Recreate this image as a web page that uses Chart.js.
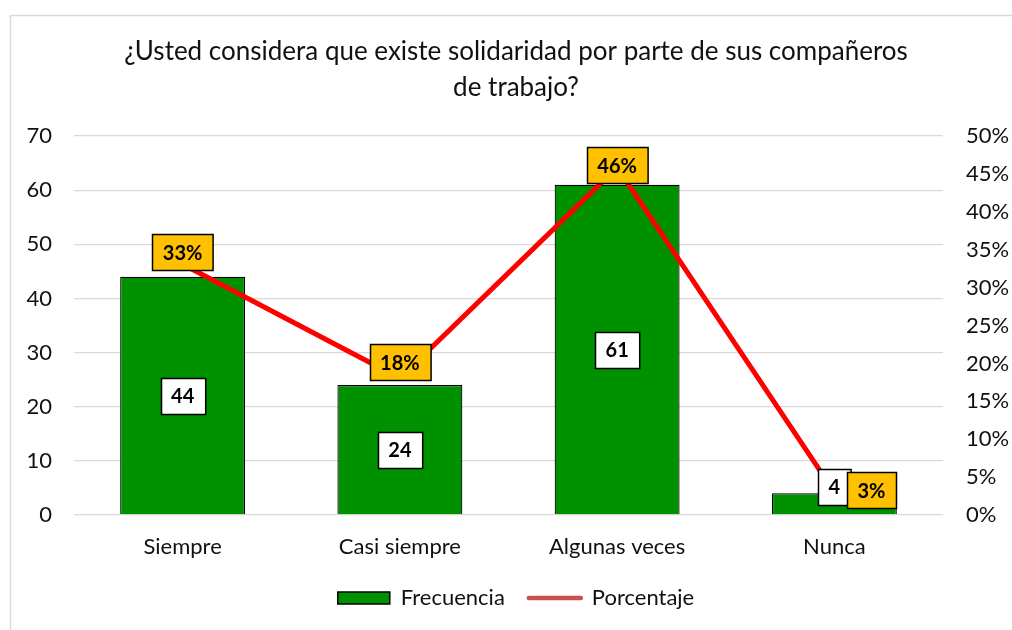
<!DOCTYPE html>
<html><head><meta charset="utf-8">
<script src="https://cdn.jsdelivr.net/npm/chart.js@4"></script>
<style>html,body{margin:0;padding:0;background:#fff}#wrap{width:1012px;height:630px}</style>
</head><body><div id="wrap"><canvas id="c" width="1012" height="630"></canvas></div>
<script>
const categories = ['Siempre', 'Casi siempre', 'Algunas veces', 'Nunca'];
const frecuencia = [44, 24, 61, 4];
const porcentaje = [33.08, 18.05, 45.86, 3.01];
const leftTicks = [0, 10, 20, 30, 40, 50, 60, 70];
const rightTicks = [0, 5, 10, 15, 20, 25, 30, 35, 40, 45, 50];
const titleLines = ['¿Usted considera que existe solidaridad por parte de sus compañeros', 'de trabajo?'];
const seriesNames = ['Frecuencia', 'Porcentaje'];

const FONT = 'Lato';
const GREEN = '#009100';
const ORANGE = '#FFC000';
const RED = '#FF0000';

const frame = {
  id: 'frame',
  beforeDraw(chart) {
    const ctx = chart.ctx;
    ctx.save();
    ctx.fillStyle = '#fff';
    ctx.fillRect(0, 0, chart.width, chart.height);
    ctx.strokeStyle = '#d9d9d9';
    ctx.lineWidth = 1.5;
    ctx.strokeRect(10.5, 15.5, chart.width + 20, chart.height + 20);
    ctx.restore();
  }
};

const boxLabels = {
  id: 'boxLabels',
  afterDatasetsDraw(chart, args, opts) {
    const ctx = chart.ctx;
    const barMeta = chart.getDatasetMeta(0);
    const lineMeta = chart.getDatasetMeta(1);
    ctx.save();
    ctx.font = 'bold 20px ' + FONT;
    ctx.textAlign = 'center';
    ctx.textBaseline = 'middle';
    const drawBox = (text, cx, cy, fill) => {
      const w = ctx.measureText(text).width + 2 * opts.padX;
      const h = opts.h;
      const x = Math.round(cx - w / 2) + 0.5, y = Math.round(cy - h / 2) + 0.5;
      ctx.fillStyle = fill;
      ctx.fillRect(x, y, w, h);
      ctx.lineWidth = 1.5;
      ctx.strokeStyle = '#000';
      ctx.strokeRect(x, y, w, h);
      ctx.fillStyle = '#000';
      ctx.fillText(text, cx, cy + 1);
    };
    frecuencia.forEach((v, i) => {
      const el = barMeta.data[i];
      const cy = (el.y + el.base) / 2 + opts.barDy[i];
      drawBox(String(v), el.x + opts.barDx[i], cy, '#fff');
    });
    porcentaje.forEach((v, i) => {
      const el = lineMeta.data[i];
      drawBox(Math.round(v) + '%', el.x + opts.pctDx[i], el.y + opts.pctDy[i], ORANGE);
    });
    ctx.restore();
  }
};

new Chart(document.getElementById('c'), {
  data: {
    labels: categories,
    datasets: [
      {
        type: 'bar', label: seriesNames[0], data: frecuencia, yAxisID: 'y',
        backgroundColor: GREEN, borderColor: '#000', borderWidth: 1.2,
        categoryPercentage: 1, barPercentage: 0.575, order: 2
      },
      {
        type: 'line', label: seriesNames[1], data: porcentaje, yAxisID: 'y1',
        borderColor: RED, borderWidth: 5, pointRadius: 0, tension: 0, order: 1,
        borderCapStyle: 'round', borderJoinStyle: 'round'
      }
    ]
  },
  options: {
    responsive: false,
    devicePixelRatio: 1,
    animation: false,
    layout: { padding: { left: 20, right: 0, top: 0, bottom: 11 } },
    plugins: {
      title: {
        display: true, text: titleLines, color: '#111',
        font: { family: FONT, size: 26, weight: 'normal', lineHeight: 1.385 },
        padding: { top: 34, bottom: 30 }
      },
      legend: {
        position: 'bottom',
        labels: {
          color: '#111', font: { family: FONT, size: 22 },
          usePointStyle: true, pointStyleWidth: 52, boxHeight: 12, padding: 24,
          generateLabels() {
            return [
              { text: seriesNames[0], fillStyle: GREEN, strokeStyle: '#000', lineWidth: 1.5, pointStyle: 'rect', datasetIndex: 0, fontColor: '#111' },
              { text: seriesNames[1], fillStyle: '#c9504f', strokeStyle: '#c9504f', lineWidth: 4.5, pointStyle: 'line', datasetIndex: 1, fontColor: '#111', lineCap: 'round' }
            ];
          }
        }
      },
      tooltip: { enabled: false },
      boxLabels: {
        padX: 10.5, h: 36,
        barDx: [0, 0, 0, 0], barDy: [0, 0, 0, -17],
        pctDx: [0, 0, 0, 37], pctDy: [-12, -16, -2, -2]
      }
    },
    scales: {
      x: {
        grid: { display: false }, border: { display: false },
        ticks: { color: '#111', font: { family: FONT, size: 22 }, padding: 11 },
        afterFit(s) { s.height = 48; }
      },
      y: {
        position: 'left', min: 0, max: 70,
        afterBuildTicks(s) { s.ticks = leftTicks.map(v => ({ value: v })); },
        grid: { color: '#d9d9d9', lineWidth: 1.3, drawTicks: false },
        border: { display: false },
        ticks: { color: '#111', font: { family: FONT, size: 22 }, padding: 22 },
        afterFit(s) { s.width = 54; }
      },
      y1: {
        position: 'right', min: 0, max: 50,
        afterBuildTicks(s) { s.ticks = rightTicks.map(v => ({ value: v })); },
        grid: { drawOnChartArea: false, drawTicks: false },
        border: { display: false },
        ticks: { color: '#111', font: { family: FONT, size: 22 }, padding: 23, callback: v => v + '%' },
        afterFit(s) { s.width = 69; }
      }
    }
  },
  plugins: [frame, boxLabels]
});
</script></body></html>
